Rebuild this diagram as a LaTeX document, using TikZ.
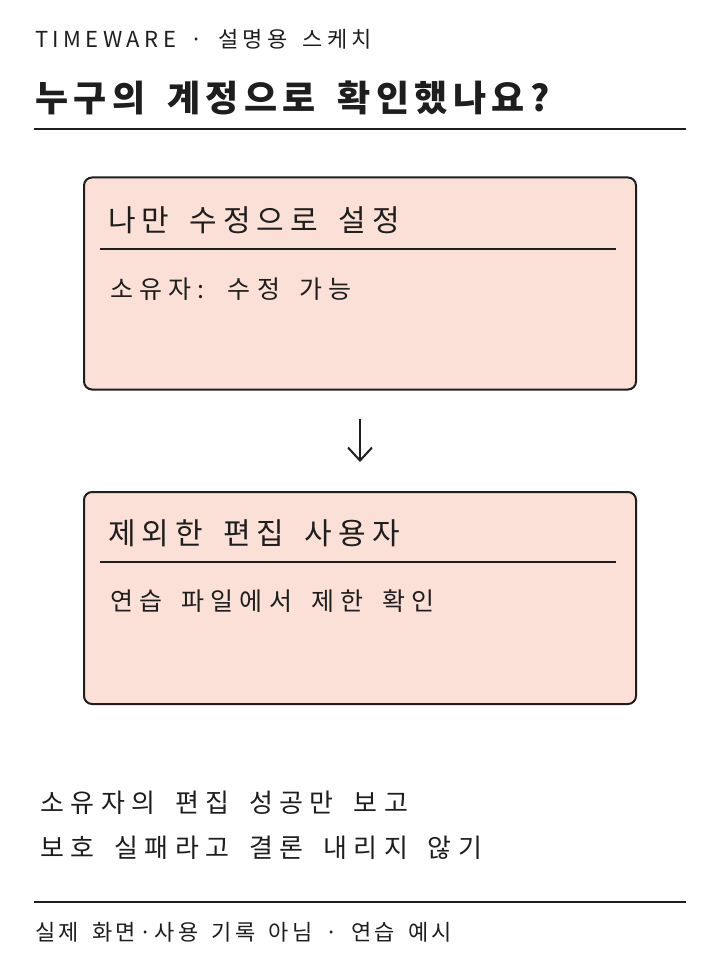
\documentclass[tikz,border=0pt]{standalone}
\usepackage{fontspec}
\setmainfont{Noto Sans CJK KR}
\newfontfamily\handfont[LetterSpace=15, WordSpace=1.6]{Noto Sans CJK KR}
\newfontfamily\handmid[LetterSpace=20, WordSpace=1.6]{Noto Sans CJK KR}
\newfontfamily\handwide[LetterSpace=25, WordSpace=1.6]{Noto Sans CJK KR}
\usetikzlibrary{positioning,arrows.meta}
\definecolor{boxfill}{HTML}{FAE0D6}
\definecolor{ink}{HTML}{1E1E1E}

\begin{document}
\begin{tikzpicture}[
    x=1pt, y=-1pt,
    box_style/.style={draw=ink, line width=2pt, fill=boxfill, rounded corners=8pt, minimum width=552pt, minimum height=212pt, inner sep=0pt},
    text_style/.style={anchor=base west, inner sep=0pt, text=ink},
    rule_style/.style={draw=ink, line width=2pt},
    divider_style/.style={draw=ink, line width=1.4pt},
    arrow_style/.style={draw=ink, line width=2pt, -{Straight Barb[length=13pt, width=24pt, line width=2pt]}}
]
\useasboundingbox (0,0) rectangle (720,960);

% Header
\node[text_style, font=\handmid\fontsize{22}{26}\selectfont] (kicker) at (35,48) {TIMEWARE · 설명용 스케치};
\node[text_style, font=\handfont\fontsize{36}{42}\selectfont\bfseries] (title) at (35,112) {누구의 계정으로 확인했나요?};
\coordinate (R1a) at (34,129);
\coordinate (R1b) at (686,129);
\draw[rule_style] (R1a) -- (R1b);

% Box 1
\node[box_style] (B1) at (360,283.5) {};
\node[text_style, font=\handmid\fontsize{30}{36}\selectfont] (B1title) at (108,231) {나만 수정으로 설정};
\coordinate (D1a) at (100,249);
\coordinate (D1b) at (616,249);
\draw[divider_style] (D1a) -- (D1b);
\node[text_style, font=\handwide\fontsize{25}{30}\selectfont] (B1body) at (110,298) {소유자: 수정 가능};

% Box 2
\node[box_style] (B2) at (360,598) {};
\node[text_style, font=\handmid\fontsize{30}{36}\selectfont] (B2title) at (108,544) {제외한 편집 사용자};
\coordinate (D2a) at (100,562);
\coordinate (D2b) at (616,562);
\draw[divider_style] (D2a) -- (D2b);
\node[text_style, font=\handwide\fontsize{25}{30}\selectfont] (B2body) at (110,610) {연습 파일에서 제한 확인};

% Arrow between boxes
\draw[arrow_style] ([yshift=-28pt]B1.south) -- ([yshift=29pt]B2.north);

% Note
\node[text_style, font=\handwide\fontsize{26}{32}\selectfont] (note1) at (40,812) {소유자의 편집 성공만 보고};
\node[text_style, font=\handwide\fontsize{26}{32}\selectfont] (note2) at (40,857) {보호 실패라고 결론 내리지 않기};

% Footer
\coordinate (R2a) at (34,902);
\coordinate (R2b) at (686,902);
\draw[rule_style] (R2a) -- (R2b);
\node[text_style, font=\handfont\fontsize{22}{26}\selectfont] (footer) at (35,940) {실제 화면·사용 기록 아님 · 연습 예시};

\end{tikzpicture}
\end{document}
